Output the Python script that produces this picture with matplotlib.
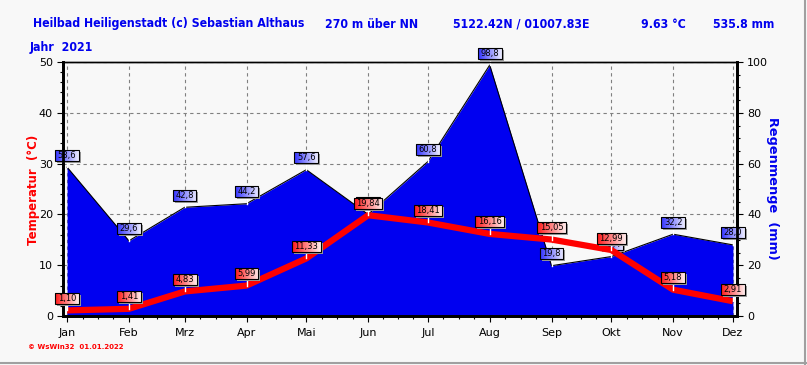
import numpy as np
import matplotlib
matplotlib.use("Agg")
import matplotlib.pyplot as plt
from matplotlib.ticker import MultipleLocator, FixedLocator
from matplotlib.image import BboxImage
from matplotlib.transforms import Bbox, IdentityTransform
from matplotlib.patches import Rectangle
from matplotlib.lines import Line2D

# monthly values 2021
months = ['Jan', 'Feb', 'Mrz', 'Apr', 'Mai', 'Jun', 'Jul', 'Aug', 'Sep', 'Okt', 'Nov', 'Dez']
month_day = [0, 31, 59, 90, 120, 151, 181, 212, 243, 273, 304, 334]
temp = [1.10, 1.41, 4.83, 5.99, 11.33, 19.84, 18.41, 16.16, 15.05, 12.99, 5.18, 2.91]
rain = [58.6, 29.6, 42.8, 44.2, 57.6, 40.0, 60.8, 98.8, 19.8, 23.4, 32.2, 28.0]

bg = '#f8f8f8'
blue = '#0000ee'
W, H = 807, 365

fig = plt.figure(figsize=(W / 100, H / 100), dpi=100, facecolor=bg)
# rain axis (behind), temperature axis on top
ax = fig.add_axes([62.7 / W, 49 / H, (737.5 - 62.7) / W, (316 - 62) / H])
ax.set_facecolor(bg)
ax_t = ax.twinx()
ax.yaxis.tick_right()
ax_t.yaxis.tick_left()
ax_t.set_zorder(ax.get_zorder() + 1)
ax_t.patch.set_visible(False)

ax.set_xlim(-2.2, 336.3)
ax.set_ylim(0, 100)
ax_t.set_ylim(0, 50)

ax.fill_between(month_day, 0, rain, color='#0000f0', lw=0, zorder=1)
ax.plot(month_day, rain, color='black', lw=0.8, zorder=1.5)
ax_t.plot(month_day, temp, color='#ff0000', lw=4.5, solid_capstyle='butt', zorder=3)

# grid
ax.set_axisbelow(True)
ax.grid(True, color='#808080', linestyle=(0, (3, 3)), linewidth=0.8)

# ticks
ax.xaxis.set_major_locator(FixedLocator(month_day))
ax.set_xticklabels(months)
quarter = np.interp(np.arange(0, 11.01, 0.25), np.arange(12), month_day)
ax.xaxis.set_minor_locator(FixedLocator(quarter))
ax.yaxis.set_major_locator(MultipleLocator(20))
ax.yaxis.set_minor_locator(MultipleLocator(5))
ax_t.yaxis.set_major_locator(MultipleLocator(10))
ax_t.yaxis.set_minor_locator(MultipleLocator(2))
for a in (ax, ax_t):
    a.tick_params(which='major', length=4, width=0.8, labelsize=8, pad=3, direction='out')
    a.tick_params(which='minor', length=2, width=0.8, direction='out')
    for s in ('left', 'right', 'bottom'):
        a.spines[s].set_linewidth(2)
    a.spines['top'].set_linewidth(1)
ax.tick_params(axis='x', pad=5)

# header texts
def ptext(x, y, s, **kw):
    fig.text(x / W, 1 - y / H, s, **kw)

hfont = dict(family=['DejaVu Sans'], stretch='condensed', weight='bold', color=blue,
             fontsize=8.8, va='center', ha='left')
ptext(33, 24, 'Heilbad Heiligenstadt (c) Sebastian Althaus', **hfont)
ptext(325, 24, '270 m über NN', **hfont)
ptext(453, 24, '5122.42N / 01007.83E', **hfont)
ptext(641, 24, '9.63 °C', **hfont)
ptext(713, 24, '535.8 mm', **hfont)
ptext(30, 48, 'Jahr  2021', **hfont)
ptext(28, 347, '© WsWin32  01.01.2022', color='#ff0000', fontsize=5, weight='bold',
      va='center', ha='left')
ptext(34, 190, 'Temperatur  (°C)', color='#ff0000', fontsize=8.5, weight='bold',
      rotation=90, va='center', ha='center')
ptext(772, 188, 'Regenmenge  (mm)', color=blue, fontsize=9.3, weight='bold',
      rotation=270, va='center', ha='center')

# outer frame lines
fig.add_artist(Line2D([804.5 / W, 804.5 / W], [0, 1], color='#a0a0a0', lw=1.5,
                      transform=fig.transFigure))
fig.add_artist(Line2D([0, 1], [1.8 / H, 1.8 / H], color='#a0a0a0', lw=1.5,
                      transform=fig.transFigure))

# value labels with gradient boxes
renderer = fig.canvas.get_renderer()
ident = IdentityTransform()


def value_label(src_ax, x, y, s, c0, c1, z):
    px, py = src_ax.transData.transform((x, y))
    cy = py + 12
    t = ax_t.text(px, cy, s, transform=ident, ha='center', va='center', fontsize=6,
                  color='black', zorder=z + 0.4, clip_on=False)
    ext = t.get_window_extent(renderer)
    w = ext.width + 5
    h = 11
    x0, y0 = px - w / 2, cy - h / 2
    ax_t.add_line(Line2D([px, px], [py, y0], color='white', lw=1, transform=ident,
                         zorder=z, clip_on=False))
    ax_t.add_patch(Rectangle((x0 + 2, y0 - 2), w, h, facecolor='#9a9a9a', lw=0,
                             transform=ident, zorder=z + 0.1, clip_on=False))
    g = np.linspace(0, 1, 40)[:, None]
    rgb = np.array(c0)[None, :] * (1 - g) + np.array(c1)[None, :] * g
    bi = BboxImage(Bbox.from_extents(x0, y0, x0 + w, y0 + h), interpolation='bilinear',
                   zorder=z + 0.2)
    bi.set_data(rgb[None, :, :])
    bi.set_clip_on(False)
    ax_t.add_artist(bi)
    ax_t.add_patch(Rectangle((x0, y0), w, h, facecolor='none', edgecolor='black', lw=0.8,
                             transform=ident, zorder=z + 0.3, clip_on=False))


for d, r in zip(month_day, rain):
    value_label(ax, d, r, ('%.1f' % r).replace('.', ','), (0.2, 0.2, 1.0), (0.93, 0.93, 1.0), 2)
for d, tv in zip(month_day, temp):
    value_label(ax_t, d, tv, ('%.2f' % tv).replace('.', ','), (1.0, 0.1, 0.1), (1.0, 0.93, 0.93), 5)

fig.savefig('out.png', dpi=100, facecolor=bg)
